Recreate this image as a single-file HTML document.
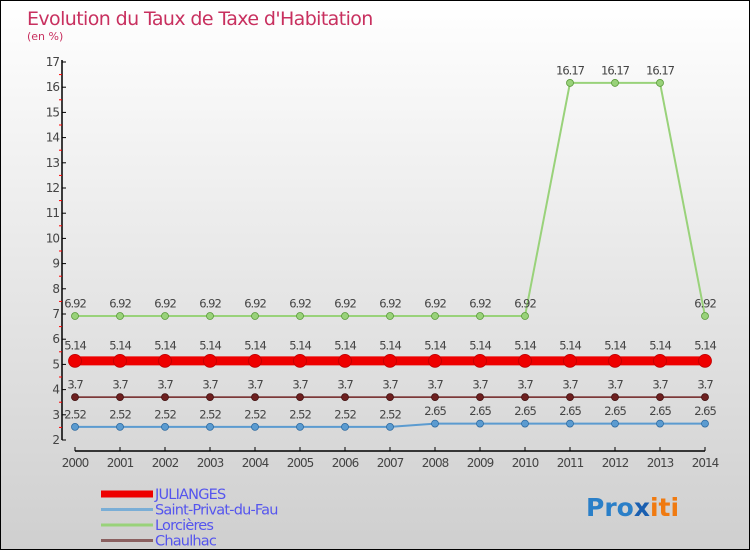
<!DOCTYPE html>
<html><head><meta charset="utf-8"><style>
body{margin:0;}
#c{width:748px;height:548px;border:1px solid #000;background:linear-gradient(#ffffff,#cfcfcf);position:relative;overflow:hidden;font-family:"DejaVu Sans","Liberation Sans",sans-serif;}
</style></head><body>
<div id="c">
<svg id="s" width="748" height="548">
<text x="26" y="24" font-size="19" fill="#c8305f" letter-spacing="-0.6">Evolution du Taux de Taxe d'Habitation</text>
<text x="26" y="39" font-size="11" fill="#c8305f">(en %)</text>
</svg>
</div>
<script>
const years=[2000,2001,2002,2003,2004,2005,2006,2007,2008,2009,2010,2011,2012,2013,2014];
const julianges=[5.14,5.14,5.14,5.14,5.14,5.14,5.14,5.14,5.14,5.14,5.14,5.14,5.14,5.14,5.14];
const saintPrivat=[2.52,2.52,2.52,2.52,2.52,2.52,2.52,2.52,2.65,2.65,2.65,2.65,2.65,2.65,2.65];
const lorcieres=[6.92,6.92,6.92,6.92,6.92,6.92,6.92,6.92,6.92,6.92,6.92,16.17,16.17,16.17,6.92];
const chaulhac=[3.7,3.7,3.7,3.7,3.7,3.7,3.7,3.7,3.7,3.7,3.7,3.7,3.7,3.7,3.7];
const yTicks=[2,3,4,5,6,7,8,9,10,11,12,13,14,15,16,17];
const NS="http://www.w3.org/2000/svg";
const s=document.getElementById('s');
const X=i=>74+i*45;
const Y=v=>439-(v-2)*25.2;
function el(t,a,p){const e=document.createElementNS(NS,t);for(const k in a)e.setAttribute(k,a[k]);(p||s).appendChild(e);return e;}
let ax=el('line',{x1:61,y1:Y(17)-2,x2:61,y2:Y(2),stroke:'#000','stroke-width':1.5});


let bx=el('line',{x1:X(0),y1:450,x2:X(14),y2:450,stroke:'#000','stroke-width':1.5});


yTicks.forEach(v=>{
 el('line',{x1:61,y1:Y(v),x2:65,y2:Y(v),stroke:'#000'});
 if(v<17)el('line',{x1:58,y1:Y(v+0.5),x2:61,y2:Y(v+0.5),stroke:'#f00'});
 const t=el('text',{x:58,y:Y(v)+4,'font-size':12,fill:'#444','text-anchor':'end','letter-spacing':'-1'});
 t.textContent=v;
 
 
});
years.forEach((yr,i)=>{
 el('line',{x1:X(i),y1:446,x2:X(i),y2:450,stroke:'#000'});
 const t=el('text',{x:X(i),y:466,'font-size':12,fill:'#444','text-anchor':'middle','letter-spacing':'-1'});
 t.textContent=yr;
 
 
});
function series(data,color,w,r,name,dark){
 const g=el('g',{});
 
 
 el('polyline',{points:data.map((v,i)=>X(i)+','+Y(v)).join(' '),fill:'none',stroke:color,'stroke-width':w},g);
 data.forEach((v,i)=>{
  const c=el('circle',{cx:X(i),cy:Y(v),r:r,fill:color,stroke:dark,'stroke-width':0.8},g);
  
  
  const t=el('text',{x:X(i),y:Y(v)-(r+5),'font-size':11.5,fill:'#444','text-anchor':'middle','letter-spacing':'-1'},g);
  t.textContent=v;
  
  
 });
}
series(lorcieres,'#99d27a',2,3.5,'lorcieres','#5a9a3a');
series(saintPrivat,'#5b9bd0',2,3.5,'saint-privat','#2d6aa0');
series(chaulhac,'#6e2020',1.5,3.5,'chaulhac','#401010');
series(julianges,'#ee0000',9,6.5,'julianges','#c00000');
const leg=[['JULIANGES','#ee0000',7],['Saint-Privat-du-Fau','#7aaed6',3],['Lorcières','#99d27a',3],['Chaulhac','#8a6060',3]];
leg.forEach((l,i)=>{
 const y=493+i*15.5;
 const g=el('g',{});
 
 
 el('line',{x1:100,y1:y,x2:152,y2:y,stroke:l[1],'stroke-width':l[2]},g);
 const t=el('text',{x:154,y:y+5,'font-size':14.5,fill:'#5555ee','letter-spacing':'-0.8'},g);
 t.textContent=l[0];
});
const p=el('text',{x:585,y:515,'font-size':25,'font-weight':'bold'});


[['Pro','#2a7fc8'],['x','#1a5fb0'],['iti','#f07a10']].forEach(([t,c])=>{const sp=el('tspan',{fill:c},p);sp.textContent=t;});
</script>
</body></html>
